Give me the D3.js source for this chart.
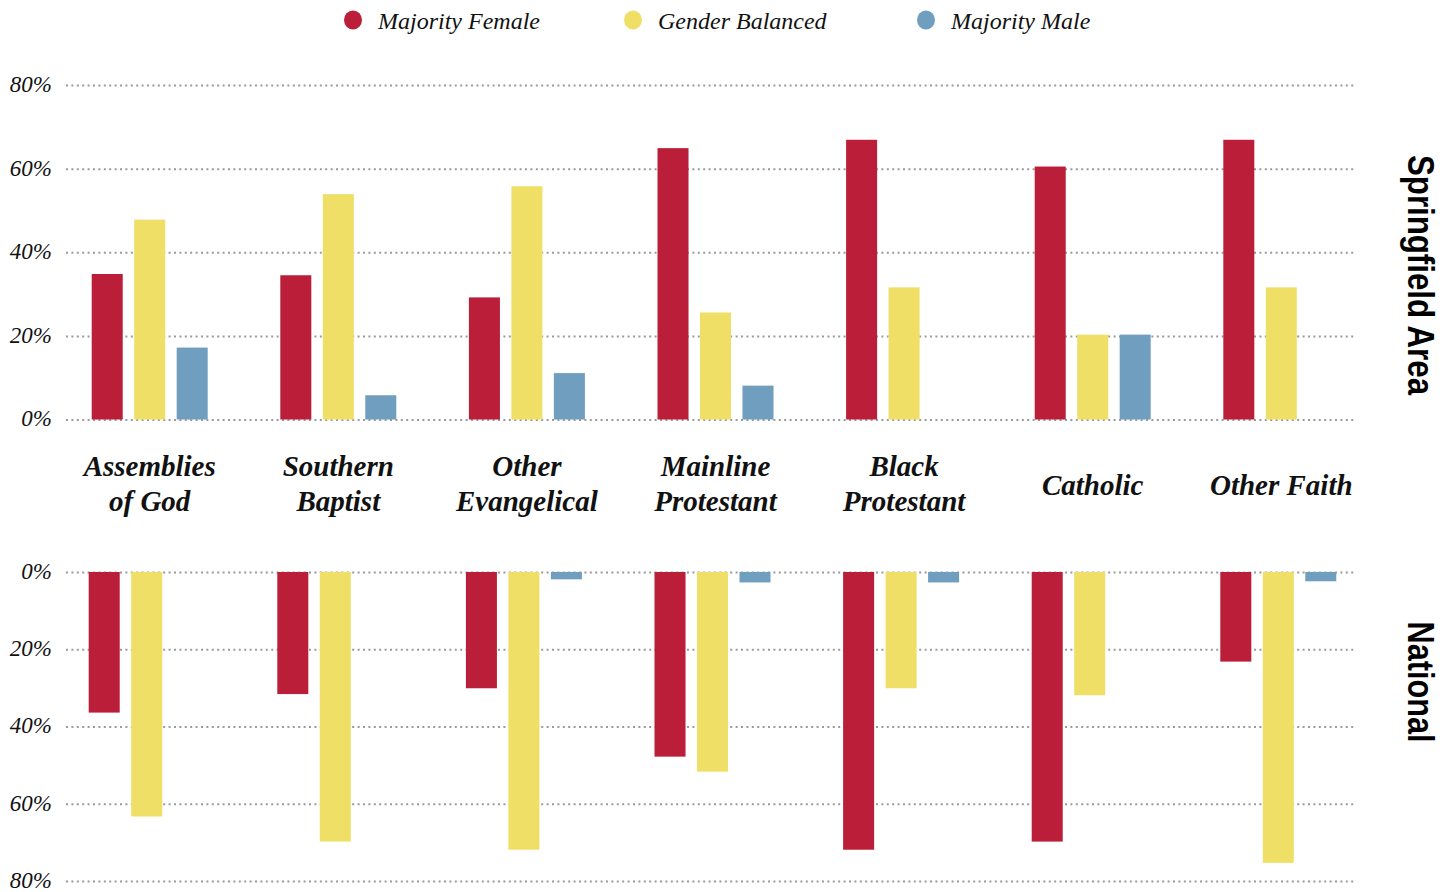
<!DOCTYPE html>
<html>
<head>
<meta charset="utf-8">
<script src="https://cdn.jsdelivr.net/npm/d3@7"></script>
<style>
  body { margin: 0; background: #fff; }
  .tick text { font-family: "Liberation Serif", "DejaVu Serif", serif; font-style: italic; font-size: 23px; fill: #111; }
  .tick line { stroke: #9a9a9a; stroke-width: 2; stroke-dasharray: 2 3.4; }
</style>
</head>
<body>
<script>
// categories and series
var categories = ["Assemblies of God", "Southern Baptist", "Other Evangelical", "Mainline Protestant", "Black Protestant", "Catholic", "Other Faith"];
var labelLines = [["Assemblies", "of God"], ["Southern", "Baptist"], ["Other", "Evangelical"], ["Mainline", "Protestant"], ["Black", "Protestant"], ["Catholic"], ["Other Faith"]];
var series = ["Majority Female", "Gender Balanced", "Majority Male"];
var colors = ["#bb1e39", "#f0df66", "#6f9ebf"];

// Springfield area values (%)
var springFemale   = [34.8, 34.5, 29.2, 64.9, 66.9, 60.5, 66.9];
var springBalanced = [47.8, 53.9, 55.8, 25.6, 31.6, 20.3, 31.6];
var springMale     = [17.2, 5.8, 11.1, 8.1, 0, 20.3, 0];

// National values (%)
var natFemale   = [36.4, 31.6, 30.1, 47.8, 71.9, 69.8, 23.2];
var natBalanced = [63.3, 69.8, 71.9, 51.7, 30.1, 31.9, 75.3];
var natMale     = [0, 0, 1.9, 2.7, 2.7, 0, 2.4];

var tickValues = [0, 20, 40, 60, 80];

var svgWidth = 1451;
var svgHeight = 892;

var svg = d3.select("body")
  .append("svg")
  .attr("width", svgWidth)
  .attr("height", svgHeight);

var gridLeft = 66, gridRight = 1355;

//group scale and bar scale
var x0 = d3.scaleBand()
  .domain(categories)
  .range([55.4, 1375.6]);

var x1 = d3.scaleBand()
  .domain(series)
  .range([-58, 58])
  .paddingInner(0.27);

var color = d3.scaleOrdinal().domain(series).range(colors);

function rowsFor(f, b, m) {
  return categories.map(function(c, i) {
    return { cat: c, values: [
      { key: series[0], v: f[i] },
      { key: series[1], v: b[i] },
      { key: series[2], v: m[i] }
    ] };
  });
}

function drawPanel(rows, yScale, shift, down) {
  var g = svg.append("g");

  var axis = d3.axisLeft(yScale)
    .tickValues(tickValues)
    .tickSize(-(gridRight - gridLeft))
    .tickPadding(14)
    .tickFormat(function(d) { return d + "%"; });

  var ax = g.append("g")
    .attr("transform", "translate(" + gridLeft + ",0)")
    .call(axis);
  ax.select(".domain").remove();
  ax.selectAll(".tick text").attr("dy", "0.28em");

  var groups = g.selectAll(".grp")
    .data(rows)
    .enter()
    .append("g")
    .attr("class", "grp")
    .attr("transform", function(d) { return "translate(" + (x0(d.cat) + x0.bandwidth() / 2 + shift) + ",0)"; });

  groups.selectAll("rect")
    .data(function(d) { return d.values.filter(function(e) { return e.v > 0; }); })
    .enter()
    .append("rect")
    .attr("x", function(d) { return x1(d.key); })
    .attr("width", x1.bandwidth())
    .attr("y", function(d) { return down ? yScale(0) : yScale(d.v); })
    .attr("height", function(d) { return Math.abs(yScale(d.v) - yScale(0)); })
    .attr("fill", function(d) { return color(d.key); });
}

var yTop = d3.scaleLinear().domain([0, 80]).range([419.5, 85]);
var yBottom = d3.scaleLinear().domain([0, 80]).range([572, 881]);

drawPanel(rowsFor(springFemale, springBalanced, springMale), yTop, 0, false);
drawPanel(rowsFor(natFemale, natBalanced, natMale), yBottom, -3, true);

//category labels
var catLabels = svg.append("g").selectAll("text")
  .data(categories)
  .enter()
  .append("text")
  .attr("x", function(d) { return x0(d) + x0.bandwidth() / 2; })
  .attr("y", function(d, i) { return labelLines[i].length > 1 ? 476 : 495; })
  .attr("text-anchor", "middle")
  .attr("font-family", "Liberation Serif, DejaVu Serif, serif")
  .attr("font-style", "italic")
  .attr("font-weight", "bold")
  .attr("font-size", "29px")
  .attr("fill", "#111");

catLabels.each(function(d, i) {
  var t = d3.select(this);
  labelLines[i].forEach(function(line, j) {
    t.append("tspan")
      .attr("x", x0(d) + x0.bandwidth() / 2)
      .attr("dy", j === 0 ? 0 : 35)
      .text(line);
  });
});

//legend
var legendX = [353, 633, 926];
var legend = svg.append("g").selectAll("g")
  .data(series)
  .enter()
  .append("g")
  .attr("transform", function(d, i) { return "translate(" + legendX[i] + ",20)"; });

legend.append("ellipse")
  .attr("rx", 9)
  .attr("ry", 9.5)
  .attr("fill", function(d) { return color(d); });

legend.append("text")
  .attr("x", 25)
  .attr("y", 9)
  .attr("font-family", "Liberation Serif, DejaVu Serif, serif")
  .attr("font-style", "italic")
  .attr("font-size", "24px")
  .attr("fill", "#111")
  .text(function(d) { return d; });

//panel titles
var panelTitles = [
  { text: "Springfield Area", y: 275, len: 240 },
  { text: "National", y: 682, len: 121 }
];
svg.append("g").selectAll("text")
  .data(panelTitles)
  .enter()
  .append("text")
  .attr("transform", function(d) { return "translate(1408," + d.y + ") rotate(90)"; })
  .attr("text-anchor", "middle")
  .attr("font-family", "Liberation Sans Narrow, Liberation Sans, Arial, sans-serif")
  .attr("font-weight", "bold")
  .attr("font-size", "37px")
  .attr("textLength", function(d) { return d.len; })
  .attr("lengthAdjust", "spacingAndGlyphs")
  .attr("fill", "#000")
  .text(function(d) { return d.text; });
</script>
</body>
</html>
